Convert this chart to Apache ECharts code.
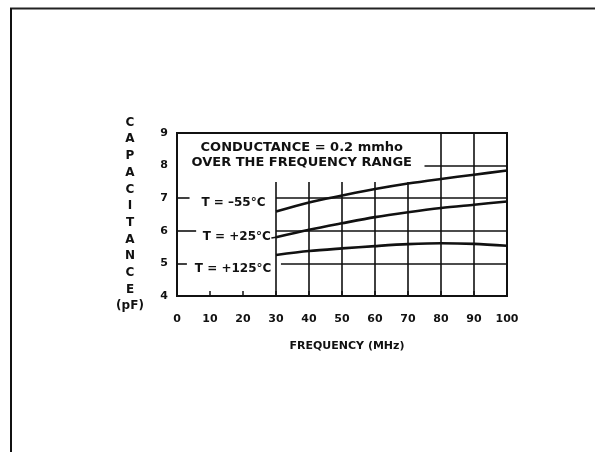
<!DOCTYPE html>
<html>
<head>
<meta charset="utf-8">
<script src="https://cdn.jsdelivr.net/npm/echarts@6/dist/echarts.min.js"></script>
<style>
  html, body { margin: 0; padding: 0; background: #fff; }
  #main { width: 595px; height: 452px; }
</style>
</head>
<body>
<div id="main"></div>
<script>
// capacitance vs frequency, three temperatures
const freqs = [30, 40, 50, 60, 70, 80, 90, 100];
const capM55 = [6.59, 6.87, 7.08, 7.28, 7.45, 7.59, 7.72, 7.85];
const cap25 = [5.80, 6.03, 6.23, 6.42, 6.57, 6.70, 6.80, 6.90];
const cap125 = [5.26, 5.38, 5.46, 5.53, 5.59, 5.62, 5.60, 5.54];

const xTicks = [0, 10, 20, 30, 40, 50, 60, 70, 80, 90, 100];
const yTicks = [4, 5, 6, 7, 8, 9];

// partial grid lines of the printed chart: [x1, y1, x2, y2]
const gridSegs = [
  [30, 4, 30, 7.5], [40, 4, 40, 7.5], [50, 4, 50, 7.5], [60, 4, 60, 7.5], [70, 4, 70, 7.5],
  [80, 4, 80, 9], [90, 4, 90, 9],
  [75, 8, 100, 8],
  [0, 7, 3.8, 7], [30, 7, 100, 7],
  [0, 6, 5.8, 6], [28.6, 5.78, 30, 5.80], [30, 6, 100, 6],
  [0, 5, 3, 5], [31.5, 5, 100, 5]
];

const noteText = 'CONDUCTANCE = 0.2 mmho\nOVER THE FREQUENCY RANGE';
const tempLabels = [
  { name: 'T = \u201355\u00b0C', pos: [17.1, 6.86] },
  { name: 'T = +25\u00b0C', pos: [18.1, 5.82] },
  { name: 'T = +125\u00b0C', pos: [17.0, 4.82] }
];

const font = 'DejaVu Sans';
const pair = (xs, ys) => xs.map((x, i) => [x, ys[i]]);
const curve = (ys) => ({
  type: 'line', data: pair(freqs, ys), smooth: 0.3, symbol: 'none',
  lineStyle: { color: '#111', width: 2.6 }, z: 5
});
const textSeries = (data, size, lh) => ({
  type: 'scatter', symbolSize: 0, silent: true, z: 6,
  itemStyle: { opacity: 1, color: '#111' },
  data: data,
  label: { show: true, position: 'inside', formatter: (p) => p.name, lineHeight: lh,
    fontFamily: font, fontWeight: 'bold', fontSize: size, color: '#111', opacity: 1,
    textBorderWidth: 0 }
});

const chart = echarts.init(document.getElementById('main'), null, { renderer: 'canvas' });
const option = {
  backgroundColor: '#fff',
  animation: false,
  grid: { left: 177, right: 88, top: 133, height: 163, show: true, borderColor: '#111', borderWidth: 2 },
  xAxis: {
    type: 'value', min: 0, max: 100, interval: 10,
    name: 'FREQUENCY (MHz)', nameLocation: 'middle', nameGap: 45,
    nameTextStyle: { fontFamily: font, fontWeight: 'bold', fontSize: 11, color: '#111', padding: [0, 0, 0, 10] },
    axisLine: { lineStyle: { color: '#111', width: 2 } },
    axisTick: { inside: true, length: 5, lineStyle: { color: '#111', width: 1.5 } },
    axisLabel: { margin: 18, fontFamily: font, fontWeight: 'bold', fontSize: 11, color: '#111',
      formatter: (v) => xTicks.includes(v) ? String(v) : '' },
    splitLine: { show: false }
  },
  yAxis: {
    type: 'value', min: 4, max: 9, interval: 1,
    name: 'C\nA\nP\nA\nC\nI\nT\nA\nN\nC\nE\n(pF)', nameLocation: 'middle', nameRotate: 0, nameGap: 47,
    nameTextStyle: { fontFamily: font, fontWeight: 'bold', fontSize: 12, color: '#111',
      align: 'center', verticalAlign: 'middle', lineHeight: 16.7 },
    axisLine: { lineStyle: { color: '#111', width: 2 } },
    axisTick: { show: false },
    axisLabel: { margin: 9, fontFamily: font, fontWeight: 'bold', fontSize: 11, color: '#111',
      formatter: (v) => yTicks.includes(v) ? String(v) : '' },
    splitLine: { show: false }
  },
  graphic: [
    { type: 'line', shape: { x1: 10, y1: 8.5, x2: 595, y2: 8.5 }, style: { stroke: '#222', lineWidth: 2 } },
    { type: 'line', shape: { x1: 11, y1: 8, x2: 11, y2: 452 }, style: { stroke: '#111', lineWidth: 2 } }
  ],
  series: [
    {
      type: 'line', data: [], silent: true,
      markLine: {
        silent: true, symbol: 'none', animation: false,
        lineStyle: { color: '#111', width: 1.6, type: 'solid' },
        label: { show: false },
        data: gridSegs.map((s) => [{ coord: [s[0], s[1]] }, { coord: [s[2], s[3]] }])
      }
    },
    curve(capM55),
    curve(cap25),
    curve(cap125),
    textSeries(tempLabels.map((t) => ({ value: t.pos, name: t.name })), 12, 14),
    textSeries([{ value: [37.8, 8.32], name: noteText }], 13, 15)
  ]
};
chart.setOption(option);
</script>
</body>
</html>
